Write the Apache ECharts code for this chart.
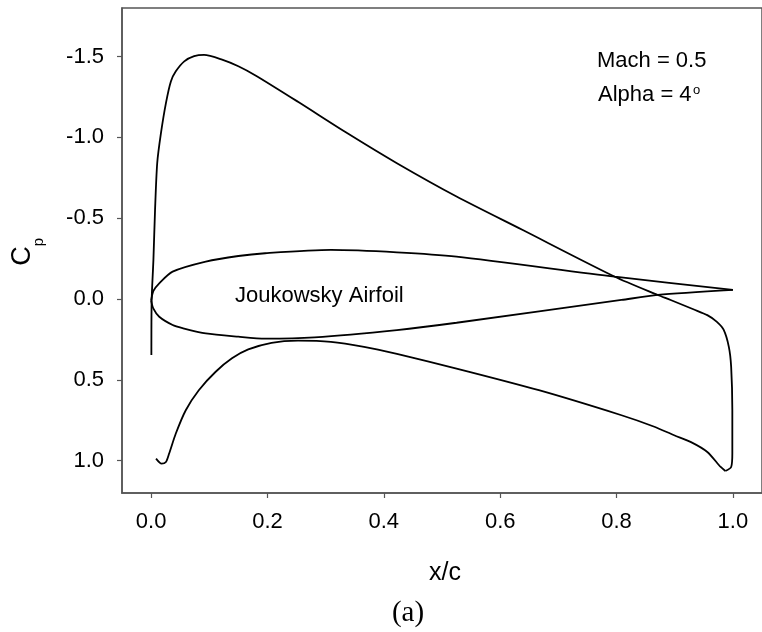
<!DOCTYPE html>
<html>
<head>
<meta charset="utf-8">
<title>Joukowsky Airfoil Cp</title>
<script src="https://cdn.jsdelivr.net/npm/echarts@6.0.0/dist/echarts.min.js"></script>
<style>
    html, body { margin: 0; padding: 0; background: #fff; }
    #main { width: 762px; height: 632px; }
</style>
</head>
<body>
<div id="main"></div>
<script>
    // Cp, lower surface (leading edge -> trailing edge)
    var cpLowerX = [0.0085, 0.018, 0.0255, 0.031, 0.0425, 0.0596, 0.082, 0.111, 0.139, 0.167, 0.207, 0.2525, 0.309, 0.366, 0.4225, 0.525, 0.6665, 0.8085, 0.865, 0.899, 0.928, 0.956, 0.979, 0.987];
    var cpLowerY = [0.987, 1.018, 1.008, 0.956, 0.832, 0.688, 0.564, 0.45, 0.367, 0.312, 0.271, 0.258, 0.265, 0.296, 0.34, 0.43, 0.564, 0.719, 0.79, 0.843, 0.885, 0.946, 1.039, 1.064];
    // Cp, upper surface (trailing edge -> leading edge)
    var cpUpperX = [0.987, 0.997, 0.999, 0.999, 0.997, 0.993, 0.984, 0.972, 0.956, 0.933, 0.893, 0.871, 0.797, 0.638, 0.525, 0.4225, 0.3375, 0.2525, 0.181, 0.15, 0.122, 0.091, 0.074, 0.057, 0.0425, 0.034, 0.0255, 0.017, 0.0105, 0.0068, 0.004, 0.001, 0.0005];
    var cpUpperY = [1.064, 1.039, 0.956, 0.688, 0.42, 0.296, 0.19, 0.14, 0.1, 0.065, 0.006, -0.025, -0.138, -0.428, -0.634, -0.84, -1.025, -1.22, -1.38, -1.44, -1.481, -1.51, -1.502, -1.47, -1.408, -1.346, -1.212, -1.027, -0.84, -0.551, -0.242, 0.006, 0.347];
    // airfoil shape, drawn in Cp units
    var foilUpperX = [0, 0.004, 0.014, 0.037, 0.094, 0.15, 0.196, 0.309, 0.4225, 0.525, 0.797, 1.0];
    var foilUpperY = [0.01, -0.05, -0.097, -0.169, -0.231, -0.266, -0.283, -0.304, -0.289, -0.262, -0.138, -0.056];
    var foilLowerX = [0, 0.004, 0.014, 0.037, 0.054, 0.094, 0.15, 0.196, 0.281, 0.4225, 0.525, 0.8085, 0.871, 1.0];
    var foilLowerY = [0.01, 0.06, 0.11, 0.161, 0.18, 0.213, 0.233, 0.245, 0.237, 0.192, 0.147, 0.006, -0.025, -0.056];

    var xTicks = [0, 0.2, 0.4, 0.6, 0.8, 1.0];
    var yTicks = [-1.5, -1.0, -0.5, 0, 0.5, 1.0];

    function pairs(xs, ys) {
        return xs.map(function (x, i) { return [x, ys[i]]; });
    }

    var chartDom = document.getElementById('main');
    var myChart = echarts.init(chartDom, null, { renderer: 'canvas' });
    var option;
    var font = 'Liberation Sans, Arial, sans-serif';

    var lineSeries = function (name, data) {
        return {
            name: name,
            type: 'line',
            data: data,
            showSymbol: false,
            smooth: 0.25,
            animation: false,
            lineStyle: { color: '#000', width: 1.8 }
        };
    };

    option = {
        animation: false,
        backgroundColor: '#fff',
        grid: {
            left: 122,
            top: 8,
            right: -7,
            bottom: 139,
            show: true,
            borderColor: '#555',
            borderWidth: 1.5
        },
        xAxis: {
            type: 'value',
            min: -0.05,
            max: 1.05,
            splitLine: { show: false },
            axisLine: { onZero: false, lineStyle: { color: '#555', width: 1.5 } },
            axisTick: { customValues: xTicks, length: 5, lineStyle: { color: '#555', width: 1.2 } },
            axisLabel: {
                customValues: xTicks,
                margin: 18,
                color: '#000',
                fontSize: 22,
                fontFamily: font,
                formatter: function (v) { return v.toFixed(1); }
            }
        },
        yAxis: {
            type: 'value',
            inverse: true,
            min: -1.8,
            max: 1.2,
            splitLine: { show: false },
            axisLine: { onZero: false, lineStyle: { color: '#555', width: 1.5 } },
            axisTick: { customValues: yTicks, length: 5, lineStyle: { color: '#555', width: 1.2 } },
            axisLabel: {
                customValues: yTicks,
                margin: 18,
                color: '#000',
                fontSize: 22,
                fontFamily: font,
                formatter: function (v) { return v.toFixed(1); }
            }
        },
        graphic: [
            { type: 'text', x: 597, y: 61, style: { text: 'Mach = 0.5', fill: '#000', fontSize: 22, fontFamily: font, align: 'left', verticalAlign: 'middle' } },
            { type: 'text', x: 598, y: 95, style: { text: 'Alpha = 4', fill: '#000', fontSize: 22, fontFamily: font, align: 'left', verticalAlign: 'middle' } },
            { type: 'text', x: 693, y: 90, style: { text: 'o', fill: '#000', fontSize: 13, fontFamily: font, align: 'left', verticalAlign: 'middle' } },
            { type: 'text', x: 235, y: 296, style: { text: 'Joukowsky Airfoil', fill: '#000', fontSize: 22, fontFamily: font, align: 'left', verticalAlign: 'middle' } },
            { type: 'text', x: 445, y: 573, style: { text: 'x/c', fill: '#000', fontSize: 25, fontFamily: font, align: 'center', verticalAlign: 'middle' } },
            { type: 'text', x: 408, y: 613, style: { text: '(a)', fill: '#000', fontSize: 29, fontFamily: 'Liberation Serif, Times New Roman, serif', align: 'center', verticalAlign: 'middle' } },
            { type: 'text', x: 23, y: 256, rotation: Math.PI / 2, style: { text: 'C', fill: '#000', fontSize: 27, fontFamily: font, align: 'center', verticalAlign: 'middle' } },
            { type: 'text', x: 39, y: 242, rotation: Math.PI / 2, style: { text: 'p', fill: '#000', fontSize: 15, fontFamily: font, align: 'center', verticalAlign: 'middle' } }
        ],
        series: [
            lineSeries('Cp lower', pairs(cpLowerX, cpLowerY)),
            lineSeries('Cp upper', pairs(cpUpperX, cpUpperY)),
            lineSeries('Airfoil upper', pairs(foilUpperX, foilUpperY)),
            lineSeries('Airfoil lower', pairs(foilLowerX, foilLowerY))
        ]
    };

    option && myChart.setOption(option);
</script>
</body>
</html>
